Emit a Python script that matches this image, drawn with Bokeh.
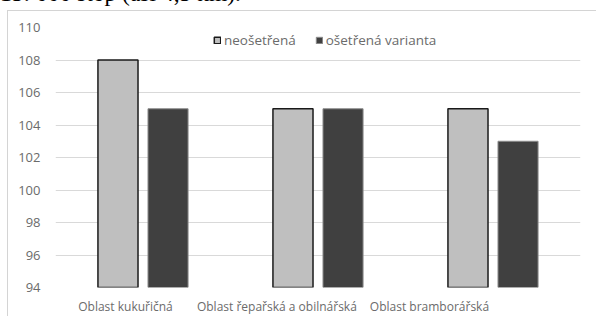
from bokeh.plotting import figure
from bokeh.models import (Range1d, FixedTicker, Legend, LegendItem, ColumnDataSource, Div)
from bokeh.layouts import column
from bokeh.embed import file_html
from bokeh.resources import INLINE

# ---- data ----
categories = ["Oblast kukuřičná", "Oblast řepařská  a obilnářská", "Oblast bramborářská"]
series_names = ["neošetřená", "ošetřená varianta"]
neosetrena = [108, 105, 105]
osetrena = [105, 105, 103]
y_ticks = [94, 96, 98, 100, 102, 104, 106, 108, 110]
header_text = "15: 000 stop (asi 4,5 km)."

# ---- layout / style ----
W, H = 589, 306
bar_w = 0.229
bar_off = 0.143
label_shift = [-0.10, -0.226, -0.363]   # category labels sit left of the groups in the original
TXT = "#6b6b6b"
FONT = "Open Sans"

idx = list(range(len(categories)))
src = ColumnDataSource(dict(
    x1=[i - bar_off for i in idx], x2=[i + bar_off for i in idx],
    a=neosetrena, b=osetrena))

p = figure(width=W, height=H, output_backend="svg", toolbar_location=None,
           x_range=Range1d(-0.5, len(categories) - 0.5), y_range=Range1d(94, 110),
           min_border_left=47, min_border_right=17, min_border_top=16, min_border_bottom=30)
p.outline_line_color = None
p.background_fill_color = "white"
p.border_fill_color = "white"
p.margin = (0, 0, 0, 7)
p.styles = {"border-top": "1px solid #d4d4d4", "border-left": "1px solid #d4d4d4"}

r1 = p.vbar(x="x1", top="a", bottom=94, width=bar_w, source=src,
            fill_color="#bfbfbf", line_color="#1a1a1a", line_width=1.5)
r2 = p.vbar(x="x2", top="b", bottom=94, width=bar_w, source=src,
            fill_color="#404040", line_color="#8c8c8c", line_width=1)

# axes
p.yaxis.ticker = FixedTicker(ticks=y_ticks)
p.yaxis.axis_line_color = None
p.yaxis.major_tick_line_color = None
p.yaxis.major_tick_out = 0
p.yaxis.major_tick_in = 0
p.yaxis.minor_tick_line_color = None
p.yaxis.major_label_standoff = 15
p.yaxis.major_label_text_font = FONT
p.yaxis.major_label_text_font_size = "13px"
p.yaxis.major_label_text_color = TXT

tick_pos = [i + s for i, s in zip(idx, label_shift)]
p.xaxis.ticker = FixedTicker(ticks=tick_pos)
p.xaxis.major_label_overrides = {t: c for t, c in zip(tick_pos, categories)}
p.xaxis.axis_line_color = None
p.xaxis.major_tick_line_color = None
p.xaxis.major_tick_out = 0
p.xaxis.major_tick_in = 0
p.xaxis.minor_tick_line_color = None
p.xaxis.major_label_standoff = 10
p.xaxis.major_label_text_font = FONT
p.xaxis.major_label_text_font_size = "12px"
p.xaxis.major_label_text_color = TXT

p.xgrid.grid_line_color = None
p.ygrid.ticker = FixedTicker(ticks=y_ticks)
p.ygrid.grid_line_color = "#d9d9d9"
p.ygrid.grid_line_width = 1

legend = Legend(items=[LegendItem(label=series_names[0], renderers=[r1]),
                       LegendItem(label=series_names[1], renderers=[r2])],
                orientation="horizontal", location=(158, 238),
                glyph_width=8, glyph_height=8, label_height=18, label_standoff=3,
                spacing=19, padding=0, margin=0,
                label_text_font=FONT, label_text_font_size="13.5px",
                label_text_color=TXT,
                background_fill_alpha=0, border_line_color=None)
p.add_layout(legend, "center")

header = Div(text='<div style="position:relative;top:-21px;white-space:nowrap;'
                  'font-family:\'Liberation Serif\';font-size:23.5px;line-height:28px;color:#000">'
                  + header_text + '</div>',
             width=597, height=10, margin=0,
             styles={"overflow": "hidden"})

layout = column(header, p, spacing=0)

html = file_html(layout, INLINE)
html = html.replace("<head>", "<head><style>html,body{margin:0;padding:0;overflow:hidden}</style>", 1)
open("out.html", "w").write(html)
